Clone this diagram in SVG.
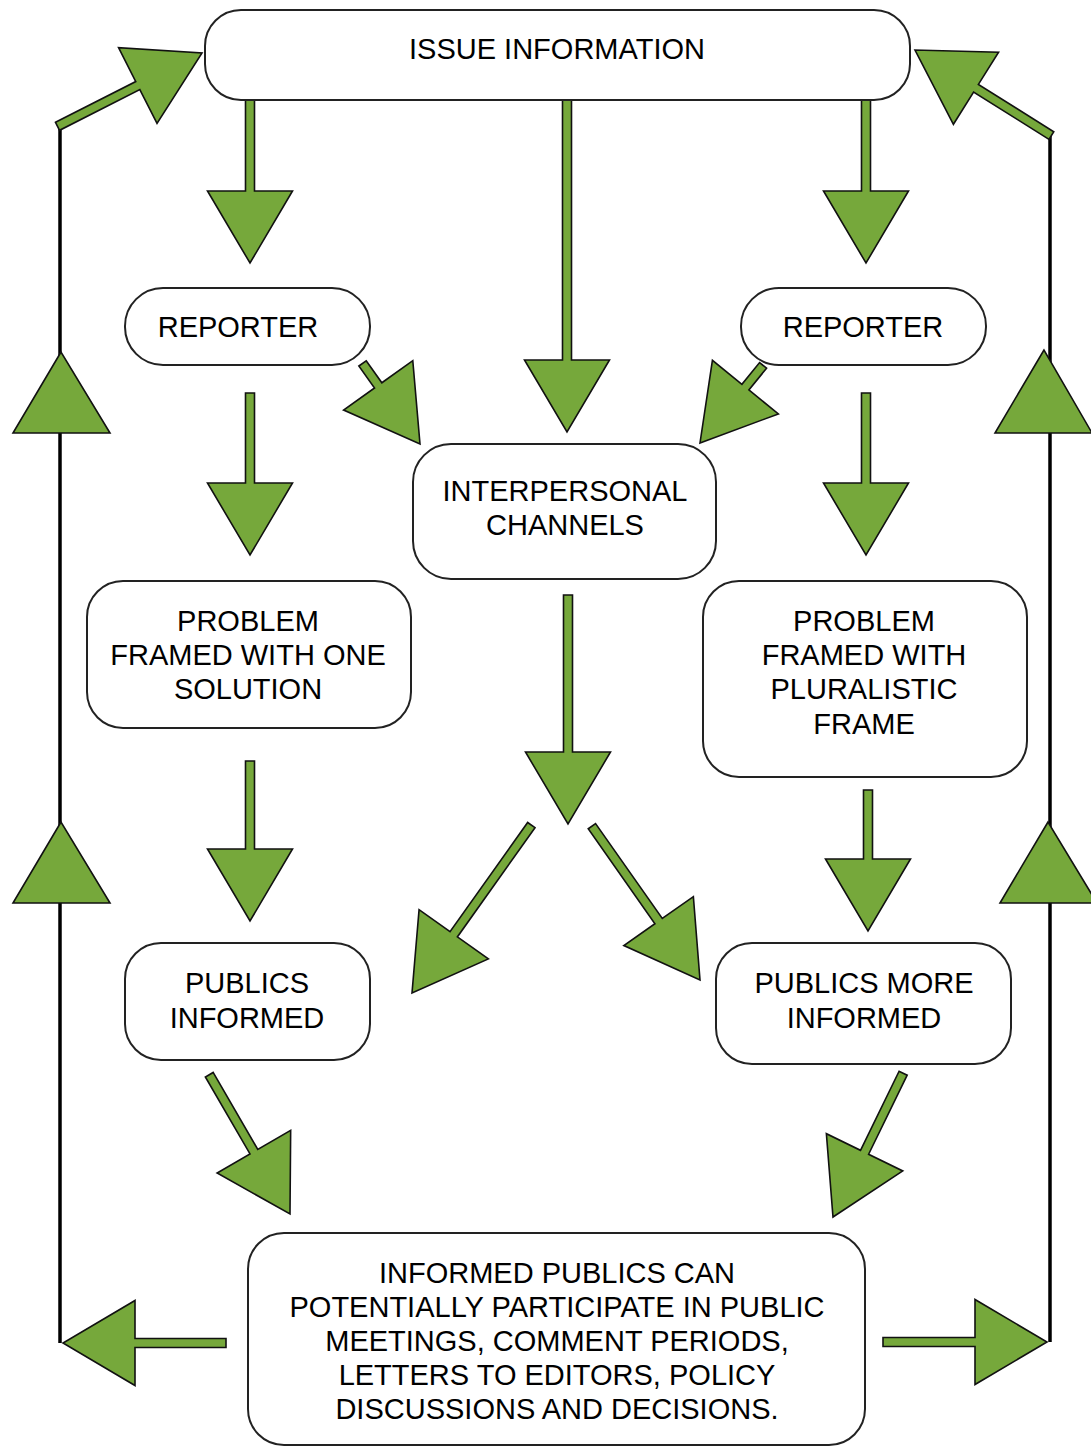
<svg xmlns="http://www.w3.org/2000/svg" width="1091" height="1447" viewBox="0 0 1091 1447">
<style>
.box{fill:#fff;stroke:#222;stroke-width:2}
.t{font-family:"Liberation Sans",Arial,sans-serif;font-size:29px;fill:#000;text-anchor:middle}
.ar{fill:#76a83b;stroke:#111;stroke-width:1.6;stroke-linejoin:miter}
.fb{fill:none;stroke:#000;stroke-width:3.5}
</style>
<rect width="1091" height="1447" fill="#fff"/>
<g id="connectors">
<polyline class="fb" points="60,1343 60,126"/>
<polyline class="fb" points="1050,1342 1050,133"/>
<polygon class="ar" points="61,352 13,433 110,433"/>
<polygon class="ar" points="61,822 13,903 110,903"/>
<polygon class="ar" points="1044,350 995,433 1092,433"/>
<polygon class="ar" points="1048,822 1000,903 1097,903"/>
<polygon class="ar" transform="translate(250,263) rotate(90)" points="-163,-4.5 -72,-4.5 -72,-42.5 0,0 -72,42.5 -72,4.5 -163,4.5"/>
<polygon class="ar" transform="translate(567,432) rotate(90)" points="-332,-4.5 -72,-4.5 -72,-42.5 0,0 -72,42.5 -72,4.5 -332,4.5"/>
<polygon class="ar" transform="translate(866,263) rotate(90)" points="-163,-4.5 -72,-4.5 -72,-42.5 0,0 -72,42.5 -72,4.5 -163,4.5"/>
<polygon class="ar" transform="translate(420,444) rotate(54.5)" points="-99,-4.5 -72,-4.5 -72,-42.5 0,0 -72,42.5 -72,4.5 -99,4.5"/>
<polygon class="ar" transform="translate(700,443) rotate(129.1)" points="-100,-4.5 -72,-4.5 -72,-42.5 0,0 -72,42.5 -72,4.5 -100,4.5"/>
<polygon class="ar" transform="translate(250,555) rotate(90)" points="-162,-4.5 -72,-4.5 -72,-42.5 0,0 -72,42.5 -72,4.5 -162,4.5"/>
<polygon class="ar" transform="translate(866,555) rotate(90)" points="-162,-4.5 -72,-4.5 -72,-42.5 0,0 -72,42.5 -72,4.5 -162,4.5"/>
<polygon class="ar" transform="translate(568,824) rotate(90)" points="-229,-4.5 -72,-4.5 -72,-42.5 0,0 -72,42.5 -72,4.5 -229,4.5"/>
<polygon class="ar" transform="translate(250,921) rotate(90)" points="-160,-4.5 -72,-4.5 -72,-42.5 0,0 -72,42.5 -72,4.5 -160,4.5"/>
<polygon class="ar" transform="translate(868,931) rotate(90)" points="-141,-4.5 -72,-4.5 -72,-42.5 0,0 -72,42.5 -72,4.5 -141,4.5"/>
<polygon class="ar" transform="translate(412,993) rotate(125.4)" points="-206,-4.5 -72,-4.5 -72,-42.5 0,0 -72,42.5 -72,4.5 -206,4.5"/>
<polygon class="ar" transform="translate(700,980) rotate(54.9)" points="-188,-4.5 -72,-4.5 -72,-42.5 0,0 -72,42.5 -72,4.5 -188,4.5"/>
<polygon class="ar" transform="translate(290,1214) rotate(59.9)" points="-161,-4.5 -72,-4.5 -72,-42.5 0,0 -72,42.5 -72,4.5 -161,4.5"/>
<polygon class="ar" transform="translate(833,1217) rotate(116)" points="-160,-4.5 -72,-4.5 -72,-42.5 0,0 -72,42.5 -72,4.5 -160,4.5"/>
<polygon class="ar" transform="translate(63,1343) rotate(180)" points="-163,-4.5 -72,-4.5 -72,-42.5 0,0 -72,42.5 -72,4.5 -163,4.5"/>
<polygon class="ar" transform="translate(1047,1342)" points="-164,-4.5 -72,-4.5 -72,-42.5 0,0 -72,42.5 -72,4.5 -164,4.5"/>
<polygon class="ar" transform="translate(202,53) rotate(-26.9)" points="-162,-4.5 -72,-4.5 -72,-42.5 0,0 -72,42.5 -72,4.5 -162,4.5"/>
<polygon class="ar" transform="translate(915,50) rotate(-147.9)" points="-161,-4.5 -72,-4.5 -72,-42.5 0,0 -72,42.5 -72,4.5 -161,4.5"/>
</g>
<g id="issue">
<rect class="box" x="205" y="10" width="705" height="90" rx="36"/>
<text class="t" x="557" y="59">ISSUE INFORMATION</text>
</g>
<g id="reporter-left">
<rect class="box" x="125" y="288" width="245" height="77" rx="38"/>
<text class="t" x="238" y="337">REPORTER</text>
</g>
<g id="reporter-right">
<rect class="box" x="741" y="288" width="245" height="77" rx="38"/>
<text class="t" x="863" y="337">REPORTER</text>
</g>
<g id="interpersonal">
<rect class="box" x="413" y="444" width="303" height="135" rx="38"/>
<text class="t" x="565" y="501">INTERPERSONAL</text>
<text class="t" x="565" y="535">CHANNELS</text>
</g>
<g id="problem-one">
<rect class="box" x="87" y="581" width="324" height="147" rx="36"/>
<text class="t" x="248" y="631">PROBLEM</text>
<text class="t" x="248" y="665">FRAMED WITH ONE</text>
<text class="t" x="248" y="699">SOLUTION</text>
</g>
<g id="problem-plural">
<rect class="box" x="703" y="581" width="324" height="196" rx="36"/>
<text class="t" x="864" y="631">PROBLEM</text>
<text class="t" x="864" y="665">FRAMED WITH</text>
<text class="t" x="864" y="699">PLURALISTIC</text>
<text class="t" x="864" y="734">FRAME</text>
</g>
<g id="publics-informed">
<rect class="box" x="125" y="943" width="245" height="117" rx="36"/>
<text class="t" x="247" y="993">PUBLICS</text>
<text class="t" x="247" y="1028">INFORMED</text>
</g>
<g id="publics-more">
<rect class="box" x="716" y="943" width="295" height="121" rx="36"/>
<text class="t" x="864" y="993">PUBLICS MORE</text>
<text class="t" x="864" y="1028">INFORMED</text>
</g>
<g id="informed-publics">
<rect class="box" x="248" y="1233" width="617" height="212" rx="36"/>
<text class="t" x="557" y="1283">INFORMED PUBLICS CAN</text>
<text class="t" x="557" y="1317">POTENTIALLY PARTICIPATE IN PUBLIC</text>
<text class="t" x="557" y="1351">MEETINGS, COMMENT PERIODS,</text>
<text class="t" x="557" y="1385">LETTERS TO EDITORS, POLICY</text>
<text class="t" x="557" y="1419">DISCUSSIONS AND DECISIONS.</text>
</g>
</svg>
